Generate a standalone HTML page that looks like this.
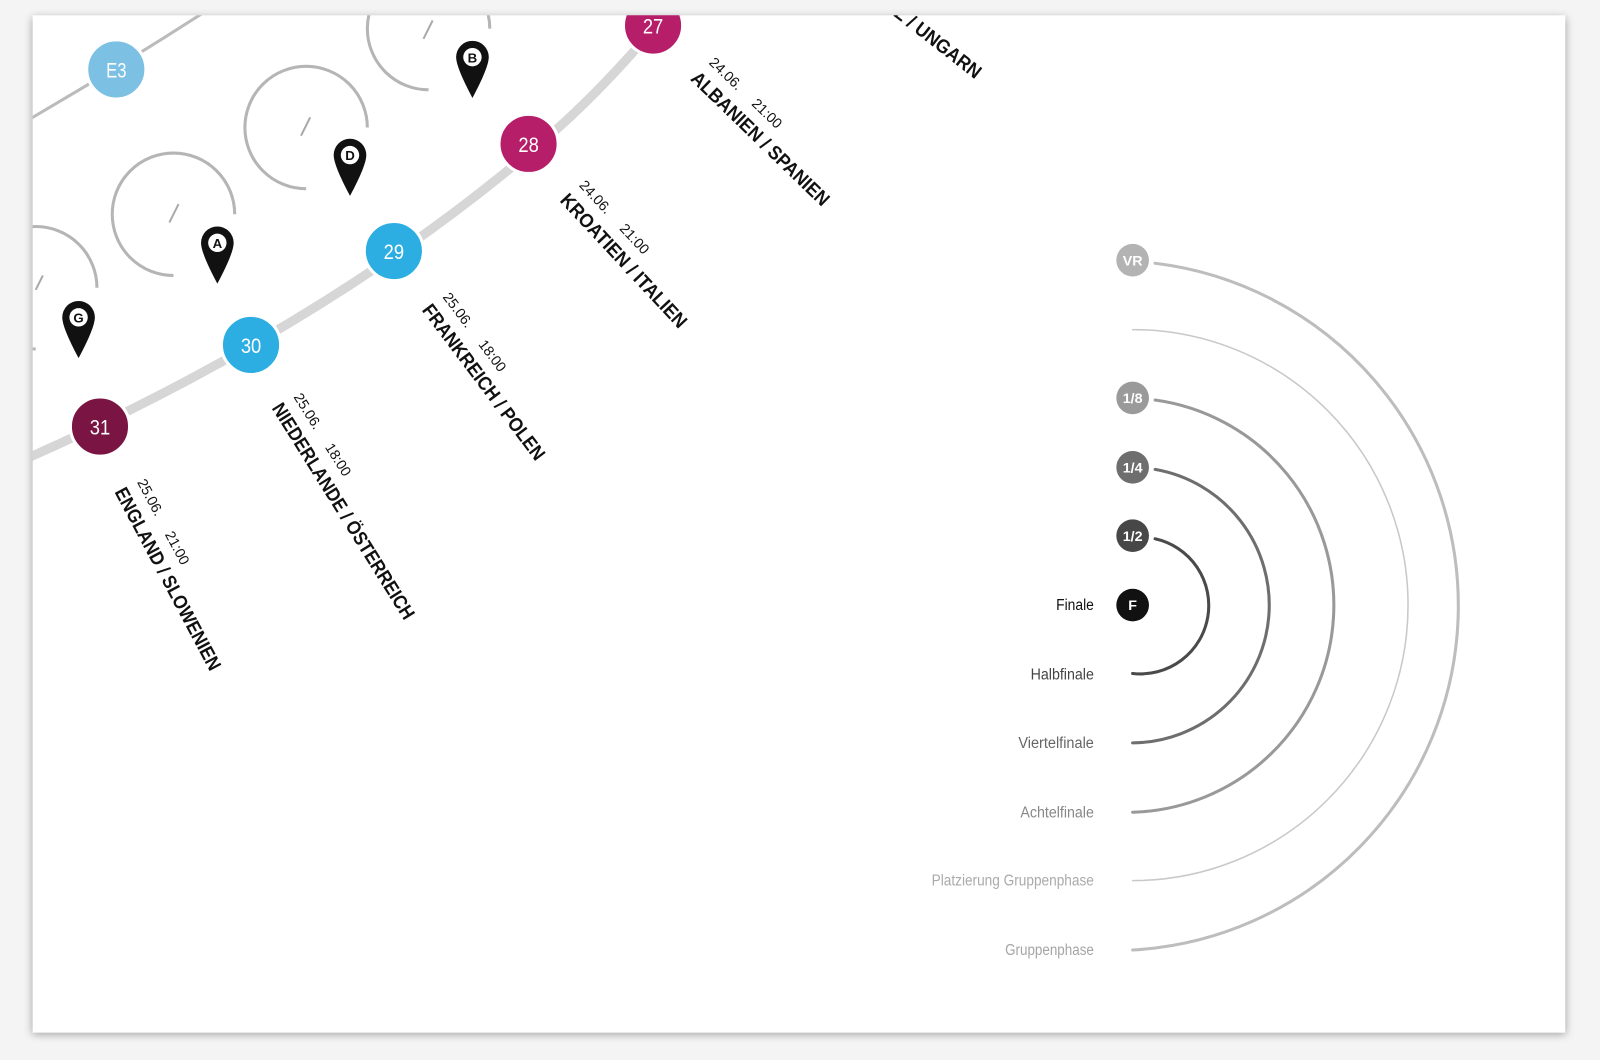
<!DOCTYPE html>
<html><head><meta charset="utf-8"><style>
html,body{margin:0;padding:0;background:#f4f4f4;}
body{width:1600px;height:1060px;position:relative;overflow:hidden;}
#wrap{position:absolute;left:0;top:0;width:1568px;height:1039px;transform:scale(1.0204);transform-origin:0 0;}
#card{position:absolute;left:32px;top:15px;width:1502px;height:997px;background:#fff;box-shadow:0 2px 8px rgba(0,0,0,0.35);overflow:hidden;}
svg{position:absolute;left:-32px;top:-15px;}
text{font-family:"Liberation Sans Narrow","Liberation Sans",sans-serif;}
</style></head><body>
<div id="wrap">
<div id="card">
<svg width="1600" height="1060" viewBox="0 0 1600 1060">
<path d="M20,122 Q110,70 200,12" fill="none" stroke="#bbb" stroke-width="3"/>
<path d="M20,452 Q320,320 530,140 Q590,90 660,5" fill="none" stroke="#d6d6d6" stroke-width="9"/>
<g fill="none" stroke="#b5b5b5" stroke-width="3">
<path d="M170,270 A60,60 0 1,1 230,210"/>
<path d="M300,185 A60,60 0 1,1 360,125"/>
<path d="M420,88 A60,60 0 1,1 480,28"/>
<path d="M35,342 A60,60 0 1,1 95,282"/>
</g>
<g stroke="#aaa" stroke-width="2">
<line x1="175" y1="200" x2="166" y2="218"/>
<line x1="304" y1="115" x2="295" y2="133"/>
<line x1="424" y1="20" x2="415" y2="38"/>
<line x1="42" y1="270" x2="35" y2="284"/>
</g>
<g>
<g transform="translate(213,238)"><path d="M-16,0 A16,16 0 0,1 16,0 Q16,10 0,40 Q-16,10 -16,0Z" fill="#111"/><circle r="9" fill="#fff"/><text y="5" text-anchor="middle" font-size="13" font-weight="bold" fill="#111">A</text></g>
<g transform="translate(343,152)"><path d="M-16,0 A16,16 0 0,1 16,0 Q16,10 0,40 Q-16,10 -16,0Z" fill="#111"/><circle r="9" fill="#fff"/><text y="5" text-anchor="middle" font-size="13" font-weight="bold" fill="#111">D</text></g>
<g transform="translate(463,56)"><path d="M-16,0 A16,16 0 0,1 16,0 Q16,10 0,40 Q-16,10 -16,0Z" fill="#111"/><circle r="9" fill="#fff"/><text y="5" text-anchor="middle" font-size="13" font-weight="bold" fill="#111">B</text></g>
<g transform="translate(77,311)"><path d="M-16,0 A16,16 0 0,1 16,0 Q16,10 0,40 Q-16,10 -16,0Z" fill="#111"/><circle r="9" fill="#fff"/><text y="5" text-anchor="middle" font-size="13" font-weight="bold" fill="#111">G</text></g>
</g>
<g stroke="#fff" stroke-width="3">
<circle cx="114" cy="68" r="29" fill="#7cc1e4"/>
<circle cx="98" cy="418" r="29" fill="#7a1442"/>
<circle cx="246" cy="338" r="29" fill="#2caee3"/>
<circle cx="386" cy="246" r="29" fill="#2caee3"/>
<circle cx="518" cy="141" r="29" fill="#b61e69"/>
<circle cx="640" cy="25" r="29" fill="#b61e69"/>
</g>
<g fill="#fff" font-size="21" text-anchor="middle">
<text x="114" y="76" textLength="20" lengthAdjust="spacingAndGlyphs">E3</text><text x="98" y="426" textLength="20" lengthAdjust="spacingAndGlyphs">31</text><text x="246" y="346" textLength="20" lengthAdjust="spacingAndGlyphs">30</text>
<text x="386" y="254" textLength="20" lengthAdjust="spacingAndGlyphs">29</text><text x="518" y="149" textLength="20" lengthAdjust="spacingAndGlyphs">28</text><text x="640" y="33" textLength="20" lengthAdjust="spacingAndGlyphs">27</text>
</g>
<g fill="#111">
<g transform="translate(112,482) rotate(62)"><text font-size="19" font-weight="bold" textLength="200" lengthAdjust="spacingAndGlyphs">ENGLAND / SLOWENIEN</text><text x="2" y="-24" font-size="14">25.06.</text><text x="60" y="-24" font-size="14">21:00</text></g>
<g transform="translate(266,400) rotate(58)"><text font-size="19" font-weight="bold" textLength="246" lengthAdjust="spacingAndGlyphs">NIEDERLANDE / ÖSTERREICH</text><text x="2" y="-24" font-size="14">25.06.</text><text x="60" y="-24" font-size="14">18:00</text></g>
<g transform="translate(413,304) rotate(53)"><text font-size="19" font-weight="bold" textLength="186" lengthAdjust="spacingAndGlyphs">FRANKREICH / POLEN</text><text x="2" y="-24" font-size="14">25.06.</text><text x="60" y="-24" font-size="14">18:00</text></g>
<g transform="translate(548,197) rotate(47)"><text font-size="19" font-weight="bold" textLength="172" lengthAdjust="spacingAndGlyphs">KROATIEN / ITALIEN</text><text x="2" y="-24" font-size="14">24.06.</text><text x="60" y="-24" font-size="14">21:00</text></g>
<g transform="translate(676,78) rotate(44)"><text font-size="19" font-weight="bold" textLength="180" lengthAdjust="spacingAndGlyphs">ALBANIEN / SPANIEN</text><text x="2" y="-24" font-size="14">24.06.</text><text x="60" y="-24" font-size="14">21:00</text></g>
<g transform="translate(820,-28) rotate(38)"><text font-size="19" font-weight="bold" textLength="172" lengthAdjust="spacingAndGlyphs">SCHWEIZ / UNGARN</text></g>
</g>
<g fill="none" stroke-linecap="round">
<path d="M1132,258 A338,338 0 0,1 1110,931" stroke="#bdbdbd" stroke-width="3"/>
<path d="M1110,323 A270,270 0 0,1 1110,863" stroke="#c8c8c8" stroke-width="1.5"/>
<path d="M1132,392 A203,203 0 0,1 1110,796" stroke="#999" stroke-width="3"/>
<path d="M1132,460 A135,135 0 0,1 1110,728" stroke="#6e6e6e" stroke-width="3"/>
<path d="M1132,528 A67,67 0 0,1 1110,660" stroke="#4a4a4a" stroke-width="3"/>
</g>
<g>
<circle cx="1110" cy="255" r="16" fill="#b3b3b3"/>
<circle cx="1110" cy="390" r="16" fill="#9a9a9a"/>
<circle cx="1110" cy="458" r="16" fill="#6e6e6e"/>
<circle cx="1110" cy="525" r="16" fill="#474747"/>
<circle cx="1110" cy="593" r="16" fill="#111"/>
</g>
<g fill="#fff" font-size="14" text-anchor="middle" font-weight="bold">
<text x="1110" y="260">VR</text><text x="1110" y="395">1/8</text><text x="1110" y="463">1/4</text>
<text x="1110" y="530">1/2</text><text x="1110" y="598">F</text>
</g>
<g font-size="15" text-anchor="end">
<text x="1072" y="598" fill="#111" textLength="37" lengthAdjust="spacingAndGlyphs">Finale</text>
<text x="1072" y="666" fill="#444" textLength="62" lengthAdjust="spacingAndGlyphs">Halbfinale</text>
<text x="1072" y="733" fill="#666" textLength="74" lengthAdjust="spacingAndGlyphs">Viertelfinale</text>
<text x="1072" y="801" fill="#888" textLength="72" lengthAdjust="spacingAndGlyphs">Achtelfinale</text>
<text x="1072" y="868" fill="#aaa" textLength="159" lengthAdjust="spacingAndGlyphs">Platzierung Gruppenphase</text>
<text x="1072" y="936" fill="#a5a5a5" textLength="87" lengthAdjust="spacingAndGlyphs">Gruppenphase</text>
</g>
</svg>
</div>
</div>
</body></html>
